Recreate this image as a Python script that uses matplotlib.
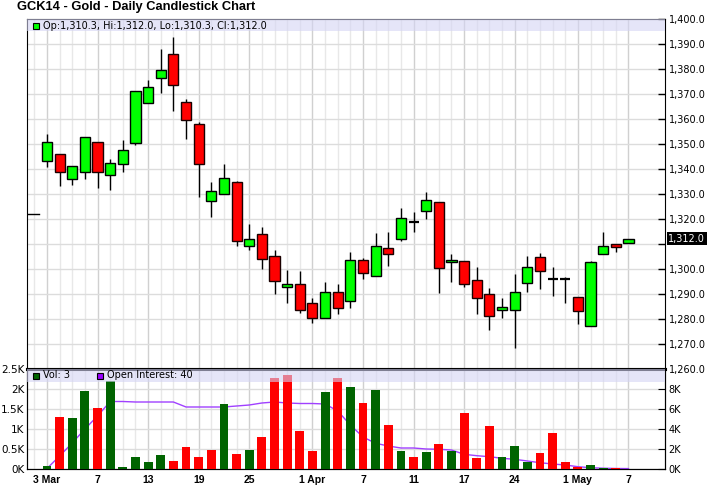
import matplotlib
matplotlib.use("Agg")
import matplotlib.pyplot as plt
import matplotlib.transforms as mtransforms
import numpy as np

# ----------------------------
# DATA
# ----------------------------
opens = [1343.0, 1345.8, 1335.8, 1338.6, 1350.6, 1337.4, 1341.8, 1350.2, 1366.2, 1376.2,
         1385.9, 1366.6, 1357.8, 1327.0, 1329.8, 1334.6, 1309.2, 1313.9, 1305.0, 1292.6,
         1294.1, 1286.2, 1280.2, 1290.6, 1287.0, 1303.4, 1297.0, 1308.2, 1311.8, 1318.6,
         1323.0, 1326.6, 1302.6, 1303.0, 1295.4, 1289.8, 1283.5, 1283.4, 1294.2, 1304.6,
         1296.0, 1296.0, 1288.9, 1277.1, 1305.8, 1309.8, 1310.3]
highs = [1354.0, 1346.0, 1341.0, 1352.6, 1350.6, 1343.9, 1351.5, 1371.0, 1375.5, 1387.9,
         1392.7, 1367.8, 1358.7, 1334.6, 1341.9, 1335.0, 1317.9, 1316.6, 1307.5, 1299.5,
         1299.1, 1288.4, 1294.7, 1293.9, 1306.7, 1304.2, 1314.3, 1314.7, 1324.3, 1322.7,
         1330.6, 1326.6, 1305.8, 1303.0, 1300.7, 1292.3, 1288.4, 1297.8, 1305.1, 1306.3,
         1300.7, 1296.6, 1288.9, 1303.1, 1314.7, 1309.8, 1312.0]
lows = [1340.8, 1333.2, 1333.6, 1336.0, 1332.4, 1331.6, 1338.8, 1349.4, 1366.2, 1370.2,
        1363.2, 1352.0, 1328.8, 1320.8, 1329.8, 1309.2, 1307.6, 1299.8, 1290.0, 1286.4,
        1282.4, 1278.4, 1280.2, 1282.0, 1284.5, 1295.8, 1297.0, 1301.2, 1311.0, 1314.8,
        1320.0, 1290.4, 1294.8, 1292.6, 1282.0, 1275.6, 1280.4, 1268.4, 1290.8, 1292.0,
        1289.2, 1286.4, 1278.0, 1277.1, 1305.8, 1306.8, 1310.3]
closes = [1350.5, 1338.6, 1341.0, 1352.6, 1338.6, 1342.2, 1347.4, 1371.0, 1372.6, 1379.4,
          1373.4, 1359.4, 1341.8, 1331.0, 1336.2, 1311.2, 1311.8, 1303.9, 1295.0, 1294.1,
          1283.7, 1280.2, 1290.9, 1284.5, 1303.4, 1298.2, 1309.0, 1305.8, 1320.2, 1318.6,
          1327.4, 1300.2, 1303.5, 1293.8, 1288.2, 1281.0, 1284.7, 1290.6, 1300.6, 1299.0,
          1296.0, 1296.0, 1283.3, 1302.6, 1309.0, 1308.6, 1312.0]

# volume in thousands, colour per bar
volume_k = [0.07, 1.30, 1.28, 1.95, 1.53, 2.20, 0.05, 0.30, 0.18, 0.35,
            0.20, 0.55, 0.30, 0.47, 1.63, 0.38, 0.47, 0.80, 2.28, 2.35,
            0.95, 0.45, 1.93, 2.28, 2.05, 1.64, 1.98, 1.10, 0.45, 0.31,
            0.43, 0.63, 0.45, 1.39, 0.28, 1.07, 0.30, 0.575, 0.18, 0.40,
            0.91, 0.18, 0.04, 0.10, 0.03, 0.02, 0.003]
volume_up = "GRGGRGGGGGRRRRGRGRRRRRGRGRGRGRGRGRRRGGGRRRRGGRG"

# open interest in thousands
open_interest_k = [0.05, 1.3, 2.6, 4.0, 5.3, 6.75, 6.75, 6.7, 6.7, 6.7,
                   6.7, 6.2, 6.2, 6.2, 6.2, 6.3, 6.4, 6.6, 6.7, 6.6,
                   6.55, 6.55, 6.5, 5.8, 4.4, 3.2, 2.57, 2.3, 2.1, 2.1,
                   2.0, 1.97, 1.9, 1.47, 1.33, 1.23, 1.07, 0.97, 0.8, 0.63,
                   0.5, 0.4, 0.23, 0.13, 0.08, 0.05, 0.04]

date_labels = ["3 Mar", "7", "13", "19", "25", "1 Apr", "7", "11", "17", "24", "1 May", "7"]
date_label_idx = [0, 4, 8, 12, 16, 21, 25, 29, 33, 37, 42, 46]

title = "GCK14 - Gold - Daily Candlestick Chart"
ohlc_text = "Op:1,310.3, Hi:1,312.0, Lo:1,310.3, Cl:1,312.0"
last_price = 1312.0
prev_marker = 1322.0

# ----------------------------
# FIGURE SETUP
# ----------------------------
plt.rcParams["font.family"] = ["DejaVu Sans"]
W, H = 714, 499
fig = plt.figure(figsize=(W / 100, H / 100), dpi=100)


def px_axes(left, top, right, bottom):
    return fig.add_axes([left / W, 1 - bottom / H, (right - left) / W, (bottom - top) / H])


ax = px_axes(27, 18.5, 664.5, 369)
axo = px_axes(27, 369, 664.5, 469)
axv = fig.add_axes(axo.get_position(), sharex=axo)

o = np.array(opens)
h = np.array(highs)
l = np.array(lows)
c = np.array(closes)
x = np.arange(len(o))
xlim = (-1.58, 48.85)

GREEN = "#00ff00"
RED = "#ff0000"
BAND = "#d4d4f4"
grid_major = "#d0d0d0"
grid_minor = "#e8e8e8"

# ----------------------------
# PRICE PANEL
# ----------------------------
up = c - o > 0.2
down = o - c > 0.2
doji = ~(up | down)

ax.vlines(x, l, h, color="k", lw=1, zorder=2)
ax.bar(x[up], (c - o)[up], bottom=o[up], width=0.8, color=GREEN, edgecolor="k", lw=1, zorder=3)
ax.bar(x[down], (o - c)[down], bottom=c[down], width=0.8, color=RED, edgecolor="#1a0000", lw=1, zorder=3)
ax.hlines(c[doji], x[doji] - 0.4, x[doji] + 0.4, color="k", lw=1.6, zorder=3)

ax.set_xlim(xlim)
ax.set_ylim(1260, 1400)
ax.set_xticks(date_label_idx)
ax.set_xticks(np.arange(-1, len(o)), minor=True)
ax.tick_params(axis="x", which="both", length=0, labelbottom=False)

yt = np.arange(1260, 1401, 10)
ax.yaxis.tick_right()
ax.set_yticks(yt)
ax.set_yticklabels(["" if v == 1310 else f"{v:,.1f}" for v in yt])
ax.tick_params(axis="y", direction="in", length=5, pad=3, labelsize=7, width=1)

ax.set_axisbelow(True)
ax.grid(axis="x", which="minor", color=grid_minor, lw=1)
ax.grid(axis="x", which="major", color=grid_major, lw=1)
ax.grid(axis="y", which="major", color="#dcdcdc", lw=1)
for s in ax.spines.values():
    s.set_color("k")
ax.spines["bottom"].set_linewidth(2.2)

ax.axhspan(1395.13, 1400, color=BAND, alpha=0.6, lw=0, zorder=4)
ax.plot([(35.5 - 27) / 637.5], [0.980], marker="s", ms=5, mfc=GREEN, mec="k", mew=0.8,
        transform=ax.transAxes, zorder=5)
ax.text((43 - 27) / 637.5, 0.980, ohlc_text, transform=ax.transAxes, fontsize=7,
        va="center", ha="left", zorder=5)

# last price box and left marker
trans = mtransforms.blended_transform_factory(ax.transAxes, ax.transData)
ax.text(1.006, last_price, "1,312.0", transform=trans, color="w", fontsize=7,
        va="center", ha="left", clip_on=False,
        bbox=dict(facecolor="k", edgecolor="none", pad=1.2))
ax.axhline(prev_marker, 0, 0.019, color="k", lw=1, zorder=5)

# ----------------------------
# VOLUME / OPEN INTEREST PANEL
# ----------------------------
axo.plot(x, open_interest_k, color="#a040ff", lw=1, zorder=2)
axo.set_ylim(0, 10)
axo.yaxis.tick_right()
axo.set_yticks([0, 2, 4, 6, 8])
axo.set_yticklabels(["0K", "2K", "4K", "6K", "8K"])
axo.tick_params(axis="y", direction="in", length=5, pad=3, labelsize=7)
axo.set_xticks(date_label_idx)
axo.set_xticks(np.arange(-1, len(o)), minor=True)
axo.set_axisbelow(True)
axo.grid(axis="x", which="minor", color=grid_minor, lw=1)
axo.grid(axis="x", which="major", color=grid_major, lw=1)
axo.grid(axis="y", which="major", color="#dcdcdc", lw=1)
axo.tick_params(axis="x", which="both", length=0, labelbottom=False)

vol_colors = ["#006400" if ch == "G" else RED for ch in volume_up]
axv.bar(x, volume_k, width=0.7, color=vol_colors, zorder=3)
axv.patch.set_visible(False)
axv.set_zorder(axo.get_zorder() + 1)
axv.set_xlim(xlim)
axv.set_ylim(0, 2.5)
axv.set_yticks([0, 0.5, 1, 1.5, 2, 2.5])
axv.set_yticklabels(["0K", "0.5K", "1K", "1.5K", "2K", "2.5K"])
axv.tick_params(axis="y", length=0, pad=2, labelsize=7.5)
axv.set_xticks(date_label_idx)
axv.set_xticklabels(date_labels, fontfamily="Liberation Sans", fontweight="bold", fontsize=7.5)
axv.tick_params(axis="x", which="both", length=0, pad=4)
for a in (axv, axo):
    for s in a.spines.values():
        s.set_color("k")
axv.spines["top"].set_linewidth(2.2)

axv.axhspan(2.18, 2.5, color=BAND, alpha=0.6, lw=0, zorder=4)
axv.plot([(35.5 - 27) / 637.5], [0.935], marker="s", ms=5, mfc="#006400", mec="k", mew=0.8,
         transform=axv.transAxes, zorder=5)
axv.text((43 - 27) / 637.5, 0.935, "Vol: 3", transform=axv.transAxes, fontsize=7,
         va="center", ha="left", zorder=5)
axv.plot([(99.5 - 27) / 637.5], [0.935], marker="s", ms=5, mfc="#9900ff", mec="k", mew=0.8,
         transform=axv.transAxes, zorder=5)
axv.text((107 - 27) / 637.5, 0.935, "Open Interest: 40", transform=axv.transAxes, fontsize=7,
         va="center", ha="left", zorder=5)

fig.text(17 / W, 1 - 7 / H, title, fontsize=9.3, fontweight="bold",
         fontfamily="Liberation Sans", va="center", ha="left")

fig.savefig("out.png", dpi=100)
